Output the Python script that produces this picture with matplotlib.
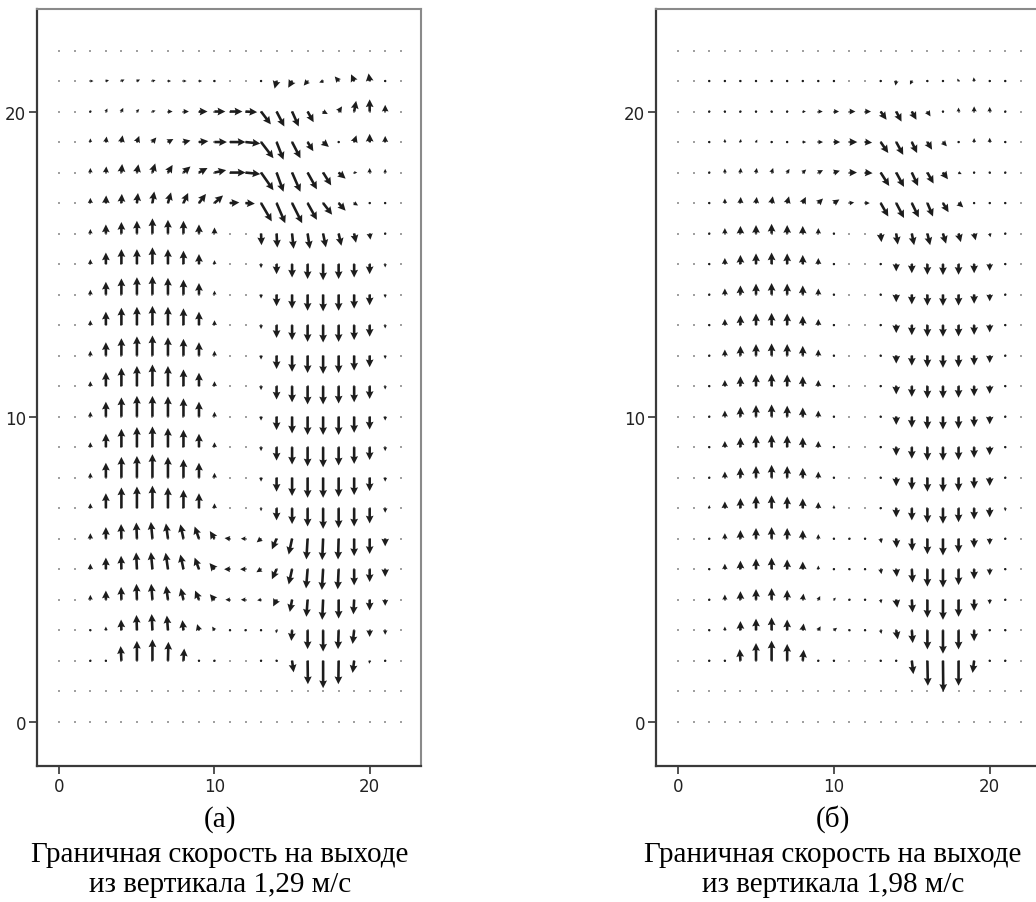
import numpy as np
import matplotlib
matplotlib.use('Agg')
import matplotlib.pyplot as plt

# grid of the field: x = 0..22, y = 0..22 (rows below are written from y=22 down to y=0)
x_cols = np.arange(0, 23)
y_rows = np.arange(22, -1, -1)
Z = [0] * 23

# ---------- panel (а): 1,29 m/s, arrow components read in grid units
U_a = [
    Z,
    [0, 0, .2, .2, .2, .2, .2, .2, .2, .2, .15, 0, 0, 0, -.13, -.25, -.25, -.25, -.25, -.2, -.07, 0, 0],
    [0, 0, .1, .1, .12, .15, .2, .3, .35, .55, .7, .8, .75, .63, .5, .43, .39, .3, .22, .13, 0, 0, 0],
    [0, 0, 0, .05, .08, .15, .25, .35, .45, .6, .8, 1.0, .95, .8, .45, .54, .37, .37, .1, .15, 0, 0, 0],
    [0, 0, 0, .03, .05, .1, .18, .3, .45, .55, .75, 1.0, .95, .8, .45, .54, .6, .52, .45, .2, 0, 0, 0],
    [0, 0, 0, .02, .03, .07, .12, .2, .3, .45, .55, .6, .6, .69, .56, .65, .6, .58, .45, .25, .1, .1, 0],
    [0, 0, 0, 0, 0, 0, 0, 0, 0, 0, 0, 0, 0, .03, .05, .1, .15, .18, .18, .12, .05, 0, 0],
    Z, Z, Z, Z, Z, Z, Z, Z, Z,
    [0, 0, 0, 0, -.02, -.04, -.1, -.13, -.2, -.28, -.3, -.35, -.3, -.28, -.3, -.22, -.08, -.06, -.04, 0, 0, 0, 0],
    [0, 0, 0, 0, -.02, -.05, -.1, -.15, -.2, -.28, -.32, -.38, -.35, -.3, -.3, -.22, -.1, -.08, -.06, 0, 0, 0, 0],
    [0, 0, 0, 0, -.02, -.03, -.08, -.12, -.18, -.25, -.3, -.3, -.3, -.25, -.22, -.15, -.08, -.06, 0, -.05, 0, 0, 0],
    [0, 0, 0, 0, -.02, -.03, -.05, -.07, -.07, -.12, -.15, -.1, -.1, -.05, -.03, -.05, 0, 0, -.04, -.1, 0, 0, 0],
    [0, 0, .08, .1, -.05, 0, 0, .03, .05, .1, .1, 0, 0, .05, .05, .1, .02, 0, -.02, -.1, -.03, 0, 0],
    Z,
    Z,
]
V_a = [
    Z,
    [0, 0, 0, .03, .05, .05, .03, 0, 0, 0, 0, 0, 0, -.05, -.25, -.22, -.15, -.05, .15, .22, .25, .08, 0],
    [0, 0, .05, .1, .12, .08, .03, 0, 0, 0, 0, 0, -.02, -.42, -.49, -.49, -.35, -.08, .17, .35, .4, .22, 0],
    [0, 0, .12, .18, .22, .2, .15, .1, .05, .03, 0, 0, -.05, -.53, -.58, -.53, -.3, -.16, .05, .22, .27, .2, 0],
    [0, 0, .15, .2, .28, .27, .3, .25, .2, .15, .08, 0, -.05, -.58, -.63, -.63, -.55, -.42, -.2, 0, .15, .12, 0],
    [0, 0, .17, .25, .3, .33, .38, .35, .33, .3, .25, .02, -.02, -.6, -.66, -.66, -.55, -.38, -.25, -.08, 0, 0, 0],
    [0, 0, .15, .3, .38, .42, .5, .45, .42, .3, .2, 0, 0, -.38, -.46, -.5, -.5, -.45, -.4, -.3, -.2, -.05, 0],
    [0, 0, .16, .38, .49, .49, .55, .49, .44, .33, .13, 0, 0, -.13, -.33, -.44, -.49, -.53, -.49, -.44, -.33, -.11, 0],
    [0, 0, .16, .42, .53, .57, .6, .55, .49, .38, .13, 0, 0, -.13, -.38, -.46, -.53, -.55, -.53, -.46, -.35, -.11, 0],
    [0, 0, .16, .44, .57, .6, .63, .6, .55, .44, .16, 0, 0, -.13, -.42, -.49, -.55, -.57, -.55, -.49, -.38, -.11, 0],
    [0, 0, .16, .44, .57, .63, .66, .6, .55, .44, .16, 0, 0, -.13, -.44, -.53, -.57, -.6, -.57, -.49, -.38, -.11, 0],
    [0, 0, .16, .46, .6, .66, .71, .66, .55, .44, .16, 0, 0, -.13, -.44, -.53, -.6, -.6, -.57, -.53, -.42, -.11, 0],
    [0, 0, .16, .49, .63, .68, .68, .66, .6, .49, .16, 0, 0, -.13, -.44, -.55, -.6, -.6, -.6, -.53, -.42, -.13, 0],
    [0, 0, .16, .44, .6, .66, .68, .63, .57, .44, .16, 0, 0, -.13, -.44, -.57, -.63, -.66, -.6, -.55, -.42, -.13, 0],
    [0, 0, .16, .49, .68, .71, .77, .68, .6, .49, .16, 0, 0, -.13, -.46, -.6, -.66, -.66, -.63, -.57, -.44, -.13, 0],
    [0, 0, .16, .49, .68, .71, .74, .68, .6, .49, .16, 0, 0, -.1, -.4, -.52, -.6, -.68, -.65, -.6, -.5, -.15, 0],
    [0, 0, .18, .38, .48, .53, .55, .5, .47, .4, .25, .02, 0, -.12, -.35, -.52, -.68, -.7, -.68, -.57, -.5, -.25, 0],
    [0, 0, .18, .38, .44, .55, .56, .54, .48, .38, .2, 0, 0, -.1, -.33, -.5, -.63, -.68, -.66, -.53, -.42, -.25, 0],
    [0, 0, .16, .3, .42, .52, .52, .45, .38, .3, .18, 0, 0, -.02, -.22, -.4, -.56, -.66, -.62, -.48, -.35, -.2, 0],
    [0, 0, .07, .12, .35, .5, .53, .48, .33, .2, .12, 0, 0, -.05, -.1, -.35, -.62, -.7, -.62, -.45, -.22, -.15, 0],
    [0, 0, .03, .03, .48, .65, .7, .62, .4, 0, 0, 0, 0, 0, -.03, -.38, -.77, -.9, -.77, -.4, -.1, -.05, 0],
    Z,
    Z,
]

# ---------- panel (б): 1,98 m/s
U_b = [
    Z,
    [0, 0, .08, .1, .1, .1, .1, .1, .1, .1, .08, 0, 0, 0, -.05, -.12, -.12, -.1, -.08, -.03, 0, -.05, 0],
    [0, 0, .05, .08, .1, .12, .12, .15, .2, .28, .33, .38, .38, .38, .34, .3, .2, .05, 0, 0, 0, 0, 0],
    [0, 0, 0, 0, .03, .08, .12, .15, .22, .3, .4, .5, .45, .49, .45, .34, .3, .25, .05, 0, 0, 0, 0],
    [0, 0, 0, 0, .02, .05, .1, .15, .22, .3, .38, .48, .48, .55, .5, .4, .4, .32, .2, .05, 0, 0, 0],
    [0, 0, 0, 0, .02, .05, .08, .12, .2, .3, .35, .3, .3, .49, .5, .45, .36, .36, .3, .1, .05, .03, 0],
    [0, 0, 0, 0, 0, 0, 0, 0, 0, 0, 0, 0, 0, .05, .1, .15, .18, .2, .15, .1, .05, 0, 0],
    Z, Z, Z, Z, Z, Z, Z, Z, Z,
    [0, 0, 0, 0, 0, 0, 0, 0, 0, 0, -.03, -.08, -.08, .05, .03, .03, 0, 0, 0, 0, 0, 0, 0],
    [0, 0, 0, 0, 0, 0, 0, 0, 0, 0, 0, .05, .03, .05, .04, .05, 0, 0, 0, 0, 0, 0, 0],
    [0, 0, 0, 0, 0, 0, 0, 0, .05, .12, .12, .05, .03, .04, .07, .05, 0, 0, 0, 0, 0, 0, 0],
    [0, 0, 0, 0, 0, 0, 0, 0, .06, .15, .2, .08, .05, .05, .1, .06, 0, 0, 0, 0, 0, 0, 0],
    [0, 0, -.05, -.05, -.05, 0, 0, 0, .06, .1, .08, 0, 0, .05, .05, .1, .03, .02, 0, -.1, 0, -.05, 0],
    Z,
    Z,
]
V_b = [
    Z,
    [0, 0, 0, 0, 0, 0, 0, 0, 0, 0, 0, 0, 0, -.05, -.15, -.12, -.03, .03, .08, .12, .05, 0, 0],
    [0, 0, 0, 0, 0, 0, 0, 0, 0, 0, 0, 0, 0, -.27, -.33, -.27, -.16, 0, .13, .17, .15, .05, 0],
    [0, 0, .05, .1, .1, .08, .05, 0, 0, 0, 0, 0, -.02, -.36, -.42, -.36, -.25, -.14, 0, .13, .14, .06, 0],
    [0, 0, .07, .13, .15, .15, .15, .12, .1, .08, .06, 0, -.02, -.44, -.47, -.44, -.36, -.22, -.05, .03, .08, .05, 0],
    [0, 0, .07, .15, .2, .2, .22, .22, .2, .15, .12, .02, 0, -.44, -.49, -.47, -.44, -.3, -.14, 0, 0, 0, 0],
    [0, 0, .08, .18, .25, .28, .32, .28, .25, .18, .08, 0, 0, -.28, -.36, -.38, -.38, -.33, -.28, -.22, -.12, -.05, 0],
    [0, 0, .08, .2, .3, .35, .38, .35, .3, .2, .08, 0, 0, -.07, -.24, -.3, -.35, -.36, -.35, -.3, -.22, -.08, 0],
    [0, 0, .08, .2, .3, .36, .38, .36, .3, .2, .08, 0, 0, -.07, -.25, -.32, -.36, -.37, -.36, -.3, -.22, -.08, 0],
    [0, 0, .08, .2, .32, .38, .4, .38, .3, .2, .08, 0, 0, -.07, -.26, -.33, -.38, -.38, -.37, -.32, -.24, -.08, 0],
    [0, 0, .08, .2, .32, .38, .4, .38, .32, .2, .08, 0, 0, -.07, -.26, -.33, -.38, -.4, -.38, -.32, -.24, -.08, 0],
    [0, 0, .08, .2, .32, .38, .4, .38, .32, .2, .08, 0, 0, -.07, -.27, -.35, -.4, -.4, -.38, -.33, -.25, -.08, 0],
    [0, 0, .08, .2, .32, .38, .4, .36, .3, .2, .08, 0, 0, -.07, -.27, -.36, -.41, -.42, -.4, -.34, -.25, -.08, 0],
    [0, 0, .08, .2, .32, .38, .4, .38, .32, .2, .08, 0, 0, -.08, -.28, -.38, -.44, -.44, -.42, -.35, -.26, -.08, 0],
    [0, 0, .08, .2, .33, .38, .42, .38, .32, .2, .08, 0, 0, -.08, -.28, -.4, -.46, -.47, -.44, -.36, -.27, -.08, 0],
    [0, 0, .1, .22, .33, .4, .42, .38, .32, .2, .1, 0, 0, -.08, -.3, -.4, -.48, -.51, -.46, -.37, -.3, -.1, 0],
    [0, 0, .08, .18, .28, .35, .38, .35, .28, .15, .07, 0, 0, -.15, -.3, -.4, -.51, -.55, -.46, -.3, -.2, -.08, 0],
    [0, 0, .07, .18, .28, .35, .38, .32, .25, .12, .05, 0, 0, -.16, -.25, -.44, -.57, -.6, -.52, -.33, -.2, -.08, 0],
    [0, 0, .07, .17, .28, .35, .38, .32, .2, .12, .07, 0, 0, -.12, -.26, -.42, -.59, -.66, -.56, -.37, -.15, -.07, 0],
    [0, 0, .07, .12, .3, .38, .42, .35, .22, .13, .08, 0, 0, -.12, -.3, -.42, -.63, -.77, -.63, -.36, -.08, -.05, 0],
    [0, 0, 0, 0, .38, .58, .66, .55, .36, 0, 0, 0, 0, -.03, -.05, -.44, -.82, -1.02, -.82, -.4, -.05, 0, 0],
    Z,
    Z,
]

captions = [('(а)', 'Граничная скорость на выходе', 'из вертикала 1,29 м/с'),
            ('(б)', 'Граничная скорость на выходе', 'из вертикала 1,98 м/с')]
ticks = [0, 10, 20]

tick_font = ['Liberation Sans Narrow', 'DejaVu Sans']
cap_font = ['Liberation Serif', 'DejaVu Serif']

fig = plt.figure(figsize=(10.36, 9.03), dpi=100)
# axes boxes in figure fractions (right panel runs past the edge like the source)
boxes = [[0.0360, 0.1506, 0.3707, 0.8383],
         [0.6332, 0.1506, 0.3722, 0.8383]]
cap_x = [0.2124, 0.8040]

X, Y = np.meshgrid(x_cols, y_rows)

for k, (U, V) in enumerate([(U_a, V_a), (U_b, V_b)]):
    ax = fig.add_axes(boxes[k])
    U = np.array(U, dtype=float)
    V = np.array(V, dtype=float)

    # faint dots at every grid node
    ax.scatter(X.ravel(), Y.ravel(), s=1.4, marker='s', color='#a0a0a0',
               linewidths=0, zorder=1)

    m = (U != 0) | (V != 0)
    ax.quiver(X[m], Y[m], U[m], V[m], angles='xy', scale_units='xy', scale=1,
              pivot='tail', units='dots', width=2.6, headwidth=3.0,
              headlength=3.0, headaxislength=2.7, color='#1c1c1c', zorder=2)

    ax.set_xlim(-1.42, 23.33)
    ax.set_ylim(-1.45, 23.36)
    ax.set_xticks(ticks)
    ax.set_yticks(ticks)
    ax.set_xticklabels([str(t) for t in ticks], family=tick_font, fontsize=12)
    ax.set_yticklabels([str(t) for t in ticks], family=tick_font, fontsize=12)
    ax.tick_params(direction='out', length=6, width=1.2, color='#333333',
                   labelcolor='#222222', pad=2)
    for s in ['top', 'right']:
        ax.spines[s].set_color('#8a8a8a')
        ax.spines[s].set_linewidth(1.5)
    for s in ['left', 'bottom']:
        ax.spines[s].set_color('#3a3a3a')
        ax.spines[s].set_linewidth(1.6)

    lab, line1, line2 = captions[k]
    fig.text(cap_x[k], 0.0842, lab, ha='center', va='baseline',
             family=cap_font, fontsize=21)
    fig.text(cap_x[k], 0.0454, line1, ha='center', va='baseline',
             family=cap_font, fontsize=21)
    fig.text(cap_x[k], 0.0122, line2, ha='center', va='baseline',
             family=cap_font, fontsize=21)

plt.savefig('out.png', dpi=100)
